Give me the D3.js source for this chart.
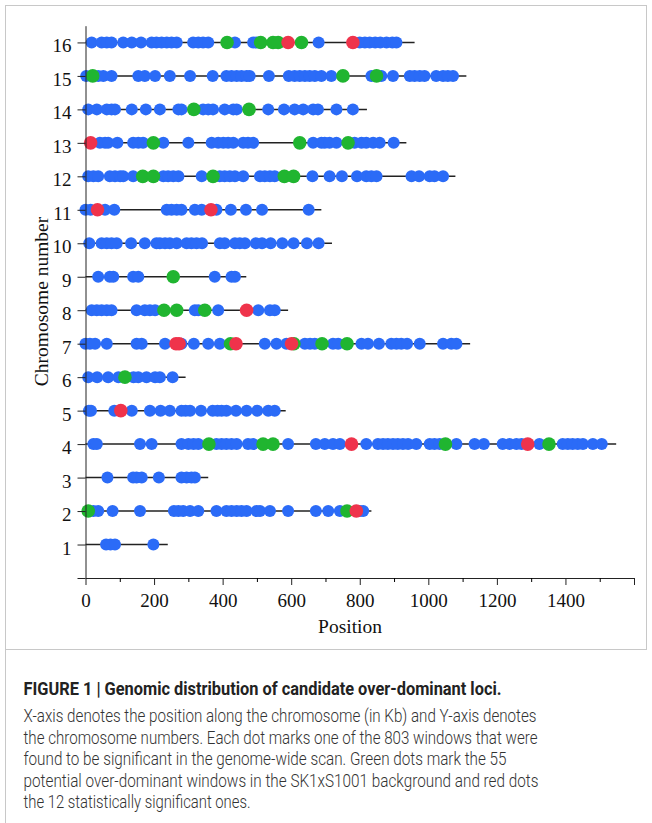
<!DOCTYPE html>
<html>
<head>
<meta charset="utf-8">
<script src="https://cdn.jsdelivr.net/npm/d3@7"></script>
<style>
  body { margin: 0; background: #fff; }
  svg { display: block; }
</style>
</head>
<body>
<script>
// chromosome numbers and their drawn lengths (Kb)
var chromosomes = d3.range(1, 17);
var chromLengths = [240, 834, 358, 1548, 584, 292, 1122, 591, 469, 719, 688, 1079, 936, 821, 1111, 960];

// significant windows, per chromosome (index 0 = chromosome 1)
var blueDots = [
  [60, 73, 86, 198],
  [23, 37, 79, 159, 258, 271, 285, 305, 329, 382, 411, 426, 441, 455, 470, 499, 509, 538, 591, 672, 708, 742, 800, 810],
  [64, 139, 149, 164, 214, 280, 295, 309, 319],
  [23, 33, 159, 193, 280, 300, 315, 329, 382, 397, 411, 426, 441, 474, 489, 591, 672, 698, 722, 742, 819, 853, 868, 882, 897, 911, 926, 941, 965, 1004, 1018, 1033, 1082, 1135, 1162, 1217, 1237, 1257, 1272, 1324, 1392, 1407, 1421, 1436, 1451, 1480, 1506],
  [10, 16, 84, 135, 188, 219, 246, 280, 292, 305, 337, 371, 385, 397, 411, 439, 470, 501, 533, 552],
  [8, 34, 66, 96, 140, 154, 178, 203, 217, 254],
  [0, 13, 28, 62, 149, 164, 232, 280, 316, 358, 392, 523, 557, 586, 640, 655, 669, 722, 737, 805, 824, 856, 892, 907, 921, 938, 975, 1043, 1067, 1082],
  [18, 33, 47, 62, 76, 149, 173, 188, 203, 319, 329, 387, 504, 538, 552],
  [37, 71, 81, 139, 154, 377, 426, 436],
  [11, 47, 62, 76, 91, 133, 173, 207, 217, 232, 246, 266, 295, 309, 324, 340, 392, 406, 436, 450, 465, 497, 515, 540, 574, 607, 646, 680],
  [0, 15, 57, 84, 237, 251, 266, 280, 319, 339, 382, 424, 468, 515, 651],
  [8, 23, 37, 71, 86, 101, 110, 139, 227, 241, 256, 271, 339, 392, 406, 421, 436, 460, 509, 523, 538, 552, 662, 712, 748, 792, 819, 834, 849, 951, 973, 1004, 1018, 1043],
  [42, 57, 66, 93, 139, 154, 168, 227, 300, 368, 387, 402, 416, 431, 460, 474, 489, 664, 688, 698, 712, 732, 785, 805, 819, 839, 858, 899],
  [8, 33, 62, 76, 86, 135, 176, 217, 271, 280, 343, 358, 372, 406, 431, 441, 533, 579, 610, 635, 664, 678, 732, 780],
  [2, 37, 52, 76, 154, 173, 203, 246, 305, 371, 411, 426, 441, 455, 470, 479, 535, 593, 610, 625, 640, 654, 669, 688, 717, 834, 863, 897, 946, 960, 975, 989, 1023, 1043, 1057, 1072],
  [18, 47, 62, 76, 110, 135, 162, 193, 207, 222, 237, 251, 266, 314, 329, 343, 358, 436, 489, 499, 680, 800, 815, 829, 845, 860, 878, 895, 907]
];
var greenDots = [
  [], [8, 763], [], [360, 518, 547, 1050, 1352], [], [115], [423, 608, 690, 763], [229, 266, 348],
  [256], [], [], [167, 198, 372, 580, 607], [198, 625, 766], [316, 477], [21, 751, 849], [413, 511, 547, 562, 630]
];
var redDots = [
  [], [790], [], [776, 1290], [103], [], [264, 273, 439, 601], [470],
  [], [], [35, 366], [], [15], [], [], [591, 780]
];

var xTicks = d3.range(0, 1601, 200);
var xMinorTicks = d3.range(100, 1600, 200);

var captionTitle = "FIGURE 1 | Genomic distribution of candidate over-dominant loci.";
var captionLines = [
  "X-axis denotes the position along the chromosome (in Kb) and Y-axis denotes",
  "the chromosome numbers. Each dot marks one of the 803 windows that were",
  "found to be significant in the genome-wide scan. Green dots mark the 55",
  "potential over-dominant windows in the SK1xS1001 background and red dots",
  "the 12 statistically significant ones."
];
var captionWidths = [513, 514, 483, 515, 227];

var colors = { blue: "#2b6bf7", green: "#20b530", red: "#ef334b" };

var width = 652, height = 823;
var svg = d3.select("body").append("svg")
  .attr("width", width)
  .attr("height", height);

// figure frame
svg.append("rect")
  .attr("x", 5.5).attr("y", 5.5)
  .attr("width", 641).attr("height", 644)
  .attr("fill", "none")
  .attr("stroke", "#c8c8c8");
svg.append("line")
  .attr("x1", 5.5).attr("x2", 5.5)
  .attr("y1", 649).attr("y2", height)
  .attr("stroke", "#c8c8c8");

var x = d3.scaleLinear().domain([0, 1600]).range([85.5, 634]);
var y = d3.scaleLinear().domain([0, 16.5]).range([578, 25.7]);

var serif = "'Liberation Serif', 'Times New Roman', serif";

// chromosome lines
svg.append("g").selectAll("line")
  .data(chromosomes)
  .join("line")
  .attr("x1", x(0))
  .attr("x2", function(d) { return x(chromLengths[d - 1]); })
  .attr("y1", function(d) { return y(d); })
  .attr("y2", function(d) { return y(d); })
  .attr("stroke", "#222")
  .attr("stroke-width", 1.5);

// dots
function flatten(arr) {
  var out = [];
  arr.forEach(function(list, i) {
    list.forEach(function(v) { out.push({ chrom: i + 1, pos: v }); });
  });
  return out;
}

svg.append("g").selectAll("circle")
  .data(flatten(blueDots))
  .join("circle")
  .attr("cx", function(d) { return x(d.pos); })
  .attr("cy", function(d) { return y(d.chrom); })
  .attr("r", 6)
  .attr("fill", colors.blue);

svg.append("g").selectAll("circle")
  .data(flatten(greenDots))
  .join("circle")
  .attr("cx", function(d) { return x(d.pos); })
  .attr("cy", function(d) { return y(d.chrom); })
  .attr("r", 6.8)
  .attr("fill", colors.green);

svg.append("g").selectAll("circle")
  .data(flatten(redDots))
  .join("circle")
  .attr("cx", function(d) { return x(d.pos); })
  .attr("cy", function(d) { return y(d.chrom); })
  .attr("r", 6.8)
  .attr("fill", colors.red);

// axes
var xAxis = svg.append("g")
  .attr("transform", "translate(0," + y(0) + ")")
  .call(d3.axisBottom(x)
    .tickValues(xTicks)
    .tickSize(7)
    .tickSizeOuter(0)
    .tickPadding(9)
    .tickFormat(function(d) { return d === 1600 ? "" : d; }));

svg.append("g")
  .attr("transform", "translate(0," + y(0) + ")")
  .call(d3.axisBottom(x)
    .tickValues(xMinorTicks)
    .tickSize(4)
    .tickSizeOuter(0)
    .tickFormat(""))
  .select(".domain").remove();

var yAxis = svg.append("g")
  .attr("transform", "translate(" + x(0) + ",0)")
  .call(d3.axisLeft(y)
    .tickValues(d3.range(0, 17))
    .tickSize(8)
    .tickSizeOuter(0)
    .tickPadding(6)
    .tickFormat(function(d) { return d === 0 ? "" : d; }));

[xAxis, yAxis].forEach(function(g) {
  g.selectAll("text")
    .attr("font-family", serif)
    .attr("font-size", 19)
    .attr("fill", "#111");
  g.selectAll("line, path").attr("stroke", "#222");
});
yAxis.selectAll("text").attr("dy", "0.5em");

svg.append("text")
  .attr("x", 350)
  .attr("y", 633)
  .attr("text-anchor", "middle")
  .attr("font-family", serif)
  .attr("font-size", 19.5)
  .attr("fill", "#111")
  .text("Position");

svg.append("text")
  .attr("transform", "translate(48,301.5) rotate(-90)")
  .attr("text-anchor", "middle")
  .attr("font-family", serif)
  .attr("font-size", 19.5)
  .attr("fill", "#111")
  .text("Chromosome number");

// caption
var sans = "Roboto, 'Liberation Sans', sans-serif";
svg.append("text")
  .attr("x", 23.5)
  .attr("y", 694.5)
  .attr("font-family", sans)
  .attr("font-weight", 700)
  .attr("font-size", 18)
  .attr("fill", "#222")
  .attr("textLength", 478)
  .attr("lengthAdjust", "spacingAndGlyphs")
  .text(captionTitle);

svg.append("g").selectAll("text")
  .data(captionLines)
  .join("text")
  .attr("x", 23.5)
  .attr("y", function(d, i) { return 722 + i * 21.6; })
  .attr("font-family", sans)
  .attr("font-weight", 300)
  .attr("font-size", 18)
  .attr("fill", "#333")
  .attr("textLength", function(d, i) { return captionWidths[i]; })
  .attr("lengthAdjust", "spacingAndGlyphs")
  .text(function(d) { return d; });
</script>
</body>
</html>
